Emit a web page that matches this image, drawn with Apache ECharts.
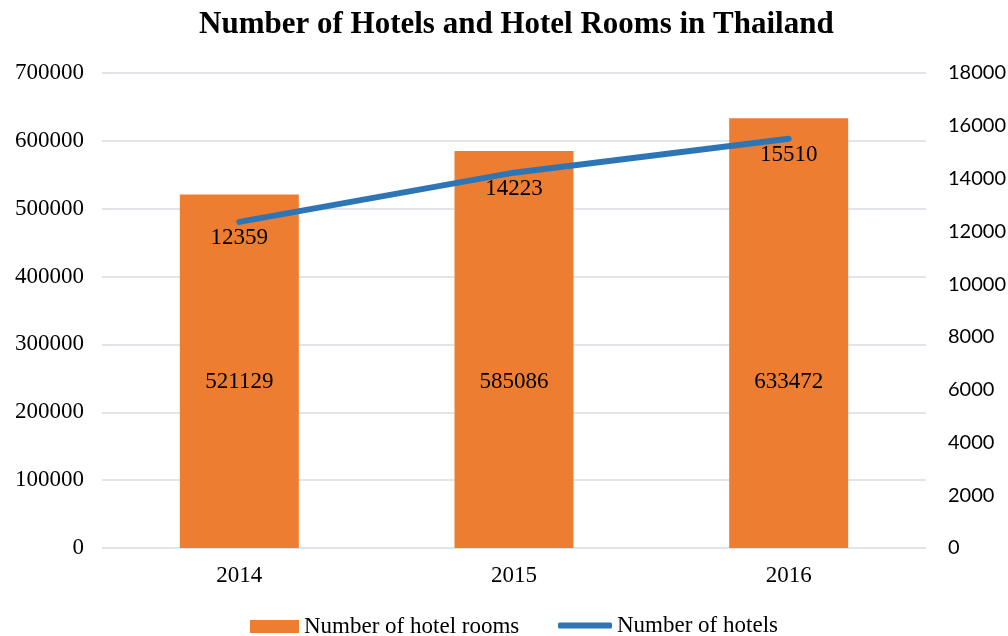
<!DOCTYPE html>
<html>
<head>
<meta charset="utf-8">
<script src="https://cdn.jsdelivr.net/npm/echarts@6/dist/echarts.min.js"></script>
<style>
  html, body { margin: 0; padding: 0; background: #fff; }
  #main { width: 1008px; height: 636px; }
</style>
</head>
<body>
<div id="main"></div>
<script>
// data
const years = ['2014', '2015', '2016'];
const hotelRooms = [521129, 585086, 633472];
const hotels = [12359, 14223, 15510];

const serif = '"Liberation Serif", "Times New Roman", serif';
const sans = 'Lato, "Liberation Sans", sans-serif';

var chartDom = document.getElementById('main');
var myChart = echarts.init(chartDom);
var option;

// plain numbers, no thousands separator
function plain(v) {
  return String(v);
}

option = {
  animation: false,
  title: {
    text: 'Number of Hotels and Hotel Rooms in Thailand',
    left: 194,
    top: 4,
    textStyle: { fontFamily: serif, fontSize: 31, fontWeight: 'bold', color: '#000' }
  },
  legend: [
    {
      data: [{ name: 'Number of hotel rooms', icon: 'rect' }],
      left: 250,
      top: 615,
      padding: 0,
      itemWidth: 49,
      itemHeight: 13,
      textStyle: { fontFamily: serif, fontSize: 23, color: '#000' }
    },
    {
      data: [{ name: 'Number of hotels', icon: 'roundRect' }],
      left: 558,
      top: 614,
      padding: 0,
      itemWidth: 54,
      itemHeight: 6,
      textStyle: { fontFamily: serif, fontSize: 23, color: '#000' }
    }
  ],
  grid: { left: 102, right: 82, top: 73, bottom: 88, outerBoundsMode: 'none' },
  xAxis: {
    type: 'category',
    data: years,
    axisLine: { show: false },
    axisTick: { show: false },
    axisLabel: { fontFamily: serif, fontSize: 23, color: '#000', margin: 16 }
  },
  yAxis: [
    {
      type: 'value',
      min: 0,
      max: 700000,
      interval: 100000,
      axisLine: { show: false },
      axisTick: { show: false },
      axisLabel: { fontFamily: serif, fontSize: 23, color: '#000', margin: 18, formatter: plain },
      splitLine: { lineStyle: { color: '#E1E4E9', width: 2 } }
    },
    {
      type: 'value',
      min: 0,
      max: 18000,
      interval: 2000,
      position: 'right',
      axisLine: { show: false },
      axisTick: { show: false },
      axisLabel: { fontFamily: sans, fontSize: 20, color: '#000', margin: 22, formatter: plain },
      splitLine: { show: false }
    }
  ],
  series: [
    {
      name: 'Number of hotel rooms',
      type: 'bar',
      data: hotelRooms,
      barWidth: 119,
      itemStyle: { color: '#ED7D31' },
      label: {
        show: true,
        position: 'insideBottom',
        distance: 155,
        fontFamily: serif,
        fontSize: 23,
        color: '#000'
      }
    },
    {
      name: 'Number of hotels',
      type: 'line',
      yAxisIndex: 1,
      data: hotels,
      symbol: 'circle',
      symbolSize: 0,
      lineStyle: { color: '#2E75B6', width: 6, cap: 'round' },
      itemStyle: { color: '#2E75B6' },
      label: {
        show: true,
        position: 'bottom',
        distance: 5,
        fontFamily: serif,
        fontSize: 23,
        color: '#000'
      }
    }
  ]
};

option && myChart.setOption(option);
</script>
</body>
</html>
